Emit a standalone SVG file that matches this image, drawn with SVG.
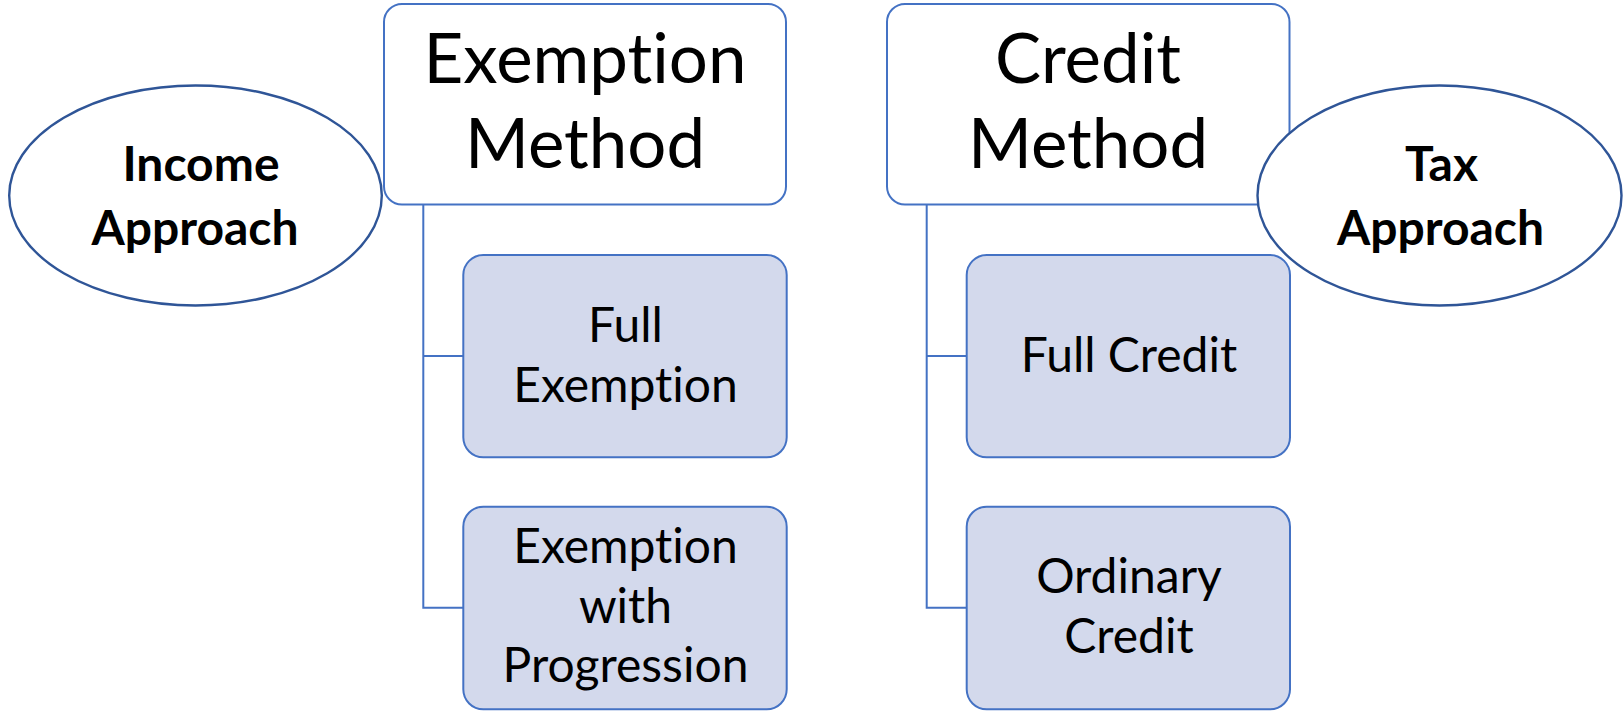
<svg xmlns="http://www.w3.org/2000/svg" width="1623" height="714" viewBox="0 0 1623 714">
  <style>
    .parent { fill: #ffffff; stroke: #4472C4; stroke-width: 2; }
    .child { fill: #D3D9EC; stroke: #4472C4; stroke-width: 2; }
    .oval { fill: #ffffff; stroke: #2F5597; stroke-width: 2.4; }
    .link { fill: none; stroke: #4472C4; stroke-width: 2; }
    text { font-family: Lato, "Liberation Sans", sans-serif; fill: #000; text-anchor: middle; font-variant-ligatures: none; font-feature-settings: "liga" 0, "dlig" 0; }
    .title { font-size: 69px; }
    .label { font-size: 48px; }
    .bold { font-size: 48px; font-weight: bold; }
  </style>
  <rect width="1623" height="714" fill="#ffffff"/>

  <!-- hierarchy connectors -->
  <g id="connectors">
    <path class="link" d="M423.3,205 V607.7 H463.3 M423.3,356 H463.3"/>
    <path class="link" d="M926.7,205 V607.7 H966.7 M926.7,356 H966.7"/>
  </g>

  <g id="exemption-method">
    <rect class="parent" x="384" y="4" width="402" height="200.5" rx="18"/>
    <text class="title" x="585" y="83">Exemption</text>
    <text class="title" x="585" y="168">Method</text>
  </g>

  <g id="full-exemption">
    <rect class="child" x="463.3" y="255" width="323.4" height="202.3" rx="20"/>
    <text class="label" x="625.5" y="341.7">Full</text>
    <text class="label" x="625.5" y="401.7">Exemption</text>
  </g>

  <g id="exemption-with-progression">
    <rect class="child" x="463.3" y="506.7" width="323.4" height="202.6" rx="20"/>
    <text class="label" x="625.5" y="563.3">Exemption</text>
    <text class="label" x="625.5" y="623.3">with</text>
    <text class="label" x="625.5" y="681.7">Progression</text>
  </g>

  <g id="credit-method">
    <rect class="parent" x="887" y="4" width="402.5" height="200.5" rx="18"/>
    <text class="title" x="1088" y="83">Credit</text>
    <text class="title" x="1088" y="168">Method</text>
  </g>

  <g id="full-credit">
    <rect class="child" x="966.7" y="255" width="323.3" height="202.3" rx="20"/>
    <text class="label" x="1129" y="371.7">Full Credit</text>
  </g>

  <g id="ordinary-credit">
    <rect class="child" x="966.7" y="506.7" width="323.3" height="202.6" rx="20"/>
    <text class="label" x="1129" y="593">Ordinary</text>
    <text class="label" x="1129" y="652.7">Credit</text>
  </g>

  <g id="income-approach">
    <ellipse class="oval" cx="195.5" cy="195.5" rx="186.3" ry="110"/>
    <text class="bold" x="201" y="181">Income</text>
    <text class="bold" x="195" y="245">Approach</text>
  </g>

  <g id="tax-approach">
    <ellipse class="oval" cx="1439.5" cy="195.5" rx="182" ry="110"/>
    <text class="bold" x="1441.5" y="181">Tax</text>
    <text class="bold" x="1440.5" y="245">Approach</text>
  </g>
</svg>
